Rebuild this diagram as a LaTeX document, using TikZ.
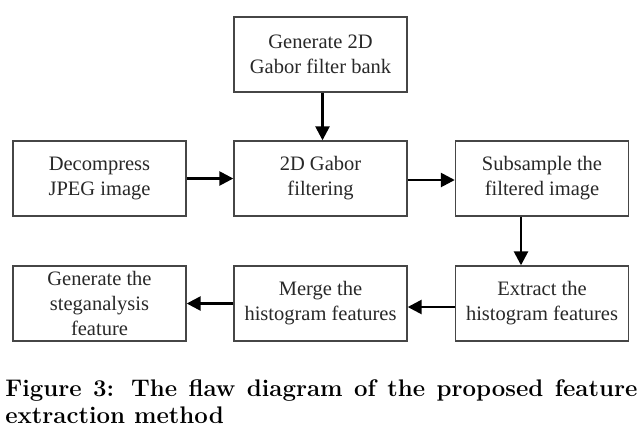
\documentclass[tikz,border=0pt]{standalone}
\usepackage{fontspec}
\newfontfamily\boxfont{Liberation Serif}
\usetikzlibrary{arrows.meta}

\tikzset{every picture/.style={line width=0.75pt}}
\tikzset{
  stage/.style={draw={rgb, 255:red, 70; green, 70; blue, 70}, line width=1.4pt, fill=white,
    minimum width=173pt, minimum height=75pt, inner sep=0pt, align=center,
    text={rgb, 255:red, 40; green, 40; blue, 40},
    font=\boxfont\fontsize{20.5}{25}\selectfont},
  flow/.style={line width=2.6pt, -{Triangle[length=14pt, width=14pt]}},
}

\begin{document}
\begin{tikzpicture}[x=1pt,y=1pt,yscale=-1,xscale=1]
\useasboundingbox (0,0) rectangle (644,432);

% Stages
\node [stage] (bank) at (320.5,54.5) {Generate 2D\\Gabor filter bank};
\node [stage] (decomp) at (99.5,178.5) {Decompress\\JPEG image};
\node [stage] (gabor) at (320.5,178.5) {2D Gabor\\filtering};
\node [stage] (subs) at (542,178.5) {Subsample the\\filtered image};
\node [stage] (extr) at (542,303.5) {Extract the\\histogram features};
\node [stage] (merge) at (320.5,303.5) {Merge the\\histogram features};
\node [stage] (steg) at (99.5,303.5) {Generate the\\steganalysis\\feature};

% Arrows
\draw [flow] ([xshift=2pt]bank.south) -- ([xshift=2pt]gabor.north);
\draw [flow] (decomp.east) -- (gabor.west);
\draw [flow] ([yshift=1.5pt]gabor.east) -- ([yshift=1.5pt]subs.west);
\draw [flow] ([xshift=-21pt]subs.south) -- ([xshift=-21pt]extr.north);
\draw [flow] ([yshift=3.5pt]extr.west) -- ([yshift=3.5pt]merge.east);
\draw [flow] (merge.west) -- (steg.east);

% Caption
\node [anchor=base west, inner sep=0pt, font=\bfseries\fontsize{24}{26.5}\selectfont] (cap1) at (5,396.7)
  {\makebox[632pt][s]{Figure 3: The flaw diagram of the proposed feature}};
\node [anchor=base west, inner sep=0pt, font=\bfseries\fontsize{24}{26.5}\selectfont] (cap2) at (5,423.2)
  {extraction method};

\end{tikzpicture}
\end{document}
